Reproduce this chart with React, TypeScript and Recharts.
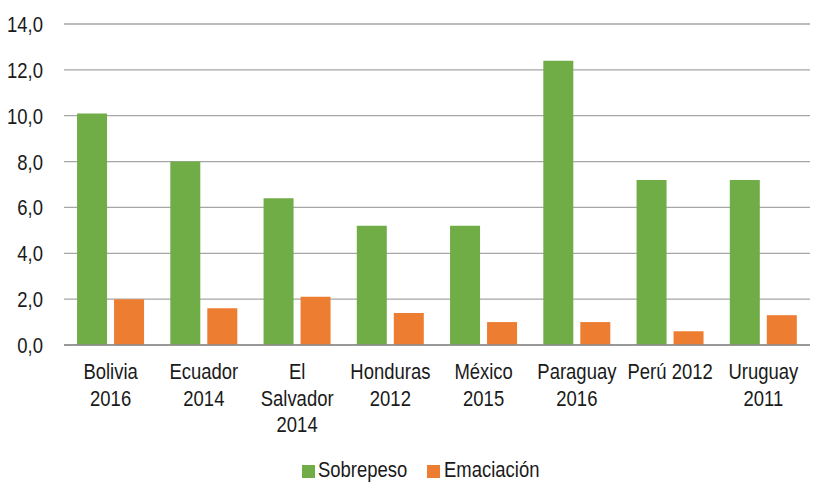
import { Bar, BarChart, CartesianGrid, Legend, XAxis, YAxis } from 'recharts';

const categories = [
  'Bolivia\n2016',
  'Ecuador\n2014',
  'El\nSalvador\n2014',
  'Honduras\n2012',
  'México\n2015',
  'Paraguay\n2016',
  'Perú 2012',
  'Uruguay\n2011',
];
const sobrepeso = [10.1, 8.0, 6.4, 5.2, 5.2, 12.4, 7.2, 7.2];
const emaciacion = [2.0, 1.6, 2.1, 1.4, 1.0, 1.0, 0.6, 1.3];
const yTicks = [0, 2, 4, 6, 8, 10, 12, 14];
const seriesNames = ['Sobrepeso', 'Emaciación'];

const GREEN = '#70AD47';
const ORANGE = '#ED7D31';
const TEXT = '#1a1a1a';
const FONT = '"Liberation Sans", Arial, sans-serif';
// narrow look: squeeze the glyphs horizontally
const SQUEEZE = 0.84;

const data = categories.map((name, i) => ({
  name,
  sobrepeso: sobrepeso[i],
  emaciacion: emaciacion[i],
}));

const fmt = (v: number) => v.toFixed(1).replace('.', ',');

const CategoryTick = (props: any) => {
  const { x, payload } = props;
  const lines = String(payload.value).split('\n');
  return (
    <g transform={`translate(${x},345) scale(${SQUEEZE},1)`}>
      <text x={0} y={0} textAnchor='middle' fill={TEXT} fontSize={22}>
        {lines.map((line, i) => (
          <tspan key={i} x={0} dy={i === 0 ? 34 : 26.7}>
            {line}
          </tspan>
        ))}
      </text>
    </g>
  );
};

const ValueTick = (props: any) => {
  const { x, y, payload } = props;
  return (
    <g transform={`translate(${x},${y}) scale(${SQUEEZE},1)`}>
      <text x={0} y={0} dy='0.36em' textAnchor='end' fill={TEXT} fontSize={22}>
        {fmt(payload.value)}
      </text>
    </g>
  );
};

const LegendContent = () => (
  <svg width={814} height={30} style={{ display: 'block' }}>
    <rect x={302} y={10} width={13} height={13} fill={GREEN} />
    <g transform={`translate(318,22) scale(${SQUEEZE},1)`}>
      <text fill={TEXT} fontSize={22}>
        {seriesNames[0]}
      </text>
    </g>
    <rect x={427} y={10} width={13} height={13} fill={ORANGE} />
    <g transform={`translate(444,22) scale(${SQUEEZE},1)`}>
      <text fill={TEXT} fontSize={22}>
        {seriesNames[1]}
      </text>
    </g>
  </svg>
);

export default function App() {
  return (
    <div
      style={{
        position: 'absolute',
        left: 0,
        top: 0,
        width: 814,
        height: 482,
        background: '#fff',
        fontFamily: FONT,
      }}
    >
      <BarChart
        width={814}
        height={482}
        data={data}
        margin={{ top: 24, right: 4, bottom: 0, left: 0 }}
        barCategoryGap='14%'
        barGap={7}
      >
        <CartesianGrid vertical={false} stroke='#a6a6a6' strokeWidth={1.3} />
        <XAxis
          dataKey='name'
          interval={0}
          tickLine={false}
          axisLine={{ stroke: '#8c8c8c', strokeWidth: 1.3 }}
          tick={<CategoryTick />}
          height={107}
        />
        <YAxis
          domain={[0, 14]}
          ticks={yTicks}
          axisLine={false}
          tickLine={false}
          width={64}
          tickMargin={15}
          tick={<ValueTick />}
        />
        <Legend
          verticalAlign='bottom'
          height={30}
          wrapperStyle={{ left: 0, top: 455, width: 814 }}
          content={<LegendContent />}
        />
        <Bar dataKey='sobrepeso' name={seriesNames[0]} fill={GREEN} isAnimationActive={false} />
        <Bar dataKey='emaciacion' name={seriesNames[1]} fill={ORANGE} isAnimationActive={false} />
      </BarChart>
    </div>
  );
}
